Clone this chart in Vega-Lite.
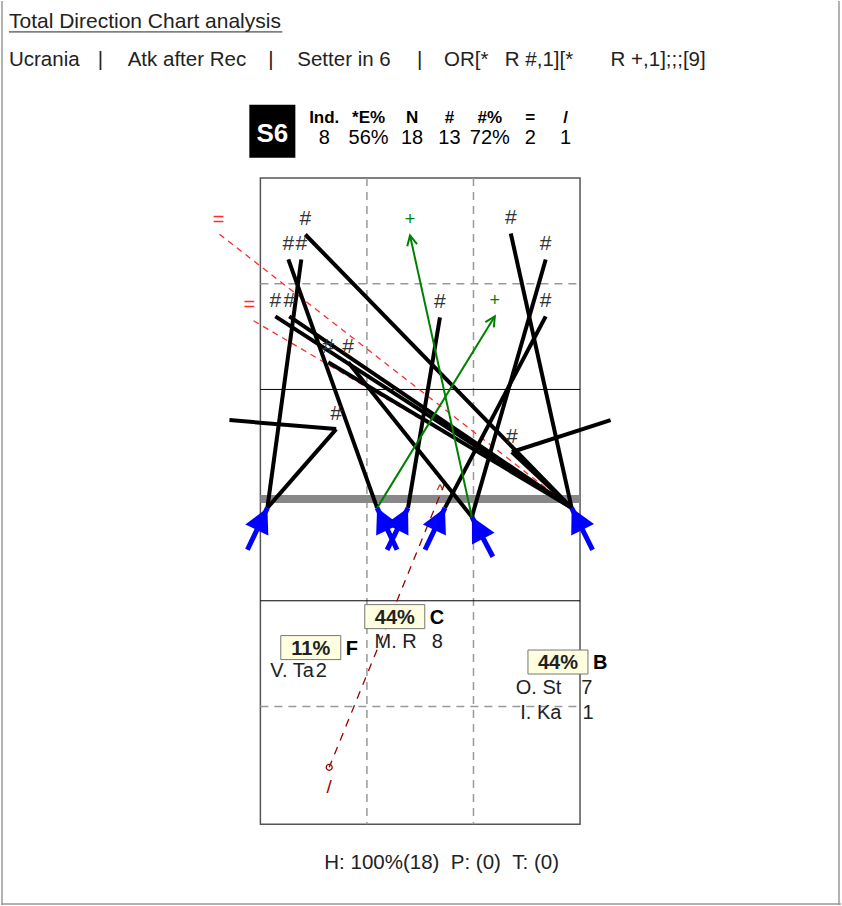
{
"$schema":"https://vega.github.io/schema/vega-lite/v6.json",
"width":842,"height":906,
"autosize":{"type":"fit","contains":"padding"},
"padding":0,
"background":"white",
"config":{"view":{"stroke":null},"text":{"font":"Liberation Sans"}},
"datasets":{
"frame":[{"x":-7.275,"y":-5.03,"x2":-7.275,"y2":20.64},{"x":16.292,"y":-5.03,"x2":16.292,"y2":20.64},{"x":-7.30,"y":20.609,"x2":16.348,"y2":20.609}],
"court":[{"x":0,"x2":9,"y":0,"y2":18.343}],
"dash":[{"x":3,"y":0,"x2":3,"y2":18.343},{"x":6,"y":0,"x2":6,"y2":18.343},{"x":0,"y":3,"x2":9,"y2":3},{"x":0,"y":15,"x2":9,"y2":15}],
"lines3m":[{"x":0,"y":6,"x2":9,"y2":6},{"x":0,"y":12,"x2":9,"y2":12}],
"net":[{"x":0,"y":9.108,"x2":9,"y2":9.108}],
"attacks":[
{"sx":8.764,"sy":9.363,"ex":1.264,"ey":1.601,"code":"#"},
{"sx":3.287,"sy":9.363,"ex":0.787,"ey":2.309,"code":"#"},
{"sx":0.197,"sy":9.363,"ex":1.152,"ey":2.309,"code":"#"},
{"sx":8.764,"sy":9.363,"ex":0.421,"ey":3.924,"code":"#"},
{"sx":8.764,"sy":9.363,"ex":0.815,"ey":3.924,"code":"#"},
{"sx":8.764,"sy":9.363,"ex":1.910,"ey":5.227,"code":"#"},
{"sx":5.955,"sy":9.618,"ex":2.472,"ey":5.227,"code":"#"},
{"sx":4.157,"sy":9.363,"ex":5.056,"ey":3.952,"code":"#"},
{"sx":8.764,"sy":9.363,"ex":7.051,"ey":1.572,"code":"#"},
{"sx":5.955,"sy":9.618,"ex":8.034,"ey":2.309,"code":"#"},
{"sx":5.197,"sy":9.363,"ex":8.034,"ey":3.924,"code":"#"},
{"sx":0.197,"sy":9.363,"ex":2.135,"ey":7.125,"code":"#"},
{"sx":8.764,"sy":9.363,"ex":7.079,"ey":7.776,"code":"#"},
{"sx":5.955,"sy":9.618,"ex":4.213,"ey":1.629,"code":"+"},
{"sx":3.287,"sy":9.363,"ex":6.601,"ey":3.924,"code":"+"},
{"sx":8.764,"sy":9.363,"ex":-1.180,"ey":1.572,"code":"="},
{"sx":8.764,"sy":9.363,"ex":-0.309,"ey":3.980,"code":"="},
{"sx":5.197,"sy":8.654,"ex":1.938,"ey":16.728,"code":"/"}
],
"starts":[
{"tx":-0.365,"ty":10.552,"hx":0.197,"hy":9.363},
{"tx":3.848,"ty":10.552,"hx":3.287,"hy":9.363},
{"tx":3.567,"ty":10.552,"hx":4.157,"hy":9.363},
{"tx":4.635,"ty":10.552,"hx":5.197,"hy":9.363},
{"tx":6.545,"ty":10.751,"hx":5.955,"hy":9.618},
{"tx":9.354,"ty":10.552,"hx":8.764,"hy":9.363}
],
"extra":[{"x":-0.871,"y":6.870,"x2":2.135,"y2":7.125},{"x":9.860,"y":6.870,"x2":7.079,"y2":7.776}],
"setter":[{"x":0.337,"y":-1.331,"label":"S6"}],
"stats":[
{"x":1.798,"hy":-1.572,"vy":-0.977,"head":"Ind.","val":"8"},
{"x":3.048,"hy":-1.572,"vy":-0.977,"head":"*E%","val":"56%"},
{"x":4.270,"hy":-1.572,"vy":-0.977,"head":"N","val":"18"},
{"x":5.323,"hy":-1.572,"vy":-0.977,"head":"#","val":"13"},
{"x":6.461,"hy":-1.572,"vy":-0.977,"head":"#%","val":"72%"},
{"x":7.598,"hy":-1.572,"vy":-0.977,"head":"=","val":"2"},
{"x":8.596,"hy":-1.572,"vy":-0.977,"head":"/","val":"1"}
],
"zones":[
{"x":3.784,"y":12.450,"pct":"44%","zone":"C"},
{"x":1.419,"y":13.329,"pct":"11%","zone":"F"},
{"x":8.379,"y":13.739,"pct":"44%","zone":"B"}
],
"players":[
{"nx":4.402,"cx":4.823,"y":13.329,"name":"M. R","n":"8"},
{"nx":1.503,"cx":1.559,"y":14.178,"name":"V. Ta","n":"2"},
{"nx":8.475,"cx":9.037,"y":14.660,"name":"O. St","n":"7"},
{"nx":8.475,"cx":9.073,"y":15.368,"name":"I. Ka","n":"1"}
],
"title":[{"x":-7.079,"y":-4.263,"t":"Total Direction Chart analysis"}],
"uline":[{"x":-7.079,"x2":0.618,"y":-4.150,"y2":-4.150}],
"subtitle":[
{"x":-7.079,"y":-3.187,"t":"Ucrania"},
{"x":-4.579,"y":-3.187,"t":"|"},
{"x":-3.736,"y":-3.187,"t":"Atk after Rec"},
{"x":0.225,"y":-3.187,"t":"|"},
{"x":1.039,"y":-3.187,"t":"Setter in 6"},
{"x":4.410,"y":-3.187,"t":"|"},
{"x":5.169,"y":-3.187,"t":"OR[*"},
{"x":6.882,"y":-3.187,"t":"R #,1][*"},
{"x":9.860,"y":-3.187,"t":"R +,1];;;[9]"}
],
"footer":[{"x":5.104,"y":19.618,"t":"H: 100%(18)\u00a0\u00a0P: (0)\u00a0\u00a0T: (0)"}]
},
"layer":[
{"data":{"name":"frame"},"mark":{"type":"rule","color":"#999","strokeWidth":1.5},
 "encoding":{"x":{"field":"x","type":"quantitative","scale":{"domain":[-7.3034,16.3483],"nice":false,"zero":false},"axis":null},"y":{"field":"y","type":"quantitative","scale":{"domain":[-5.0283,20.6374],"nice":false,"zero":false,"reverse":true},"axis":null},"x2":{"field":"x2"},"y2":{"field":"y2"}}},
{"data":{"name":"court"},"mark":{"type":"rect","filled":false,"stroke":"#555","strokeWidth":1.5},
 "encoding":{"x":{"field":"x","type":"quantitative","scale":{"domain":[-7.3034,16.3483],"nice":false,"zero":false},"axis":null},"y":{"field":"y","type":"quantitative","scale":{"domain":[-5.0283,20.6374],"nice":false,"zero":false,"reverse":true},"axis":null},"x2":{"field":"x2"},"y2":{"field":"y2"}}},
{"data":{"name":"dash"},"mark":{"type":"rule","color":"#999","strokeWidth":1.5,"strokeDash":[8,6]},
 "encoding":{"x":{"field":"x","type":"quantitative","scale":{"domain":[-7.3034,16.3483],"nice":false,"zero":false},"axis":null},"y":{"field":"y","type":"quantitative","scale":{"domain":[-5.0283,20.6374],"nice":false,"zero":false,"reverse":true},"axis":null},"x2":{"field":"x2"},"y2":{"field":"y2"}}},
{"data":{"name":"lines3m"},"mark":{"type":"rule","color":"#000","strokeWidth":1},
 "encoding":{"x":{"field":"x","type":"quantitative","scale":{"domain":[-7.3034,16.3483],"nice":false,"zero":false},"axis":null},"y":{"field":"y","type":"quantitative","scale":{"domain":[-5.0283,20.6374],"nice":false,"zero":false,"reverse":true},"axis":null},"x2":{"field":"x2"},"y2":{"field":"y2"}}},
{"data":{"name":"net"},"mark":{"type":"rule","color":"#888","strokeWidth":8},
 "encoding":{"x":{"field":"x","type":"quantitative","scale":{"domain":[-7.3034,16.3483],"nice":false,"zero":false},"axis":null},"y":{"field":"y","type":"quantitative","scale":{"domain":[-5.0283,20.6374],"nice":false,"zero":false,"reverse":true},"axis":null},"x2":{"field":"x2"},"y2":{"field":"y2"}}},
{"data":{"name":"attacks"},"transform":[{"filter":"datum.code==='='"}],"mark":{"type":"rule","color":"#ff2a2a","strokeWidth":1.3,"strokeDash":[6,5]},
 "encoding":{"x":{"field":"sx","type":"quantitative","scale":{"domain":[-7.3034,16.3483],"nice":false,"zero":false},"axis":null},"y":{"field":"sy","type":"quantitative","scale":{"domain":[-5.0283,20.6374],"nice":false,"zero":false,"reverse":true},"axis":null},"x2":{"field":"ex"},"y2":{"field":"ey"}}},
{"data":{"name":"attacks"},"transform":[{"filter":"datum.code==='/'"}],"mark":{"type":"rule","color":"#990000","strokeWidth":1.3,"strokeDash":[8,7]},
 "encoding":{"x":{"field":"sx","type":"quantitative","scale":{"domain":[-7.3034,16.3483],"nice":false,"zero":false},"axis":null},"y":{"field":"sy","type":"quantitative","scale":{"domain":[-5.0283,20.6374],"nice":false,"zero":false,"reverse":true},"axis":null},"x2":{"field":"ex"},"y2":{"field":"ey"}}},
{"data":{"name":"attacks"},"transform":[{"filter":"datum.code==='#'"}],"mark":{"type":"rule","color":"#000","strokeWidth":4},
 "encoding":{"x":{"field":"sx","type":"quantitative","scale":{"domain":[-7.3034,16.3483],"nice":false,"zero":false},"axis":null},"y":{"field":"sy","type":"quantitative","scale":{"domain":[-5.0283,20.6374],"nice":false,"zero":false,"reverse":true},"axis":null},"x2":{"field":"ex"},"y2":{"field":"ey"}}},
{"data":{"name":"extra"},"mark":{"type":"rule","color":"#000","strokeWidth":4},
 "encoding":{"x":{"field":"x","type":"quantitative","scale":{"domain":[-7.3034,16.3483],"nice":false,"zero":false},"axis":null},"y":{"field":"y","type":"quantitative","scale":{"domain":[-5.0283,20.6374],"nice":false,"zero":false,"reverse":true},"axis":null},"x2":{"field":"x2"},"y2":{"field":"y2"}}},
{"data":{"name":"attacks"},"transform":[{"filter":"datum.code==='+'"}],"mark":{"type":"rule","color":"#008000","strokeWidth":2},
 "encoding":{"x":{"field":"sx","type":"quantitative","scale":{"domain":[-7.3034,16.3483],"nice":false,"zero":false},"axis":null},"y":{"field":"sy","type":"quantitative","scale":{"domain":[-5.0283,20.6374],"nice":false,"zero":false,"reverse":true},"axis":null},"x2":{"field":"ex"},"y2":{"field":"ey"}}},
{"data":{"name":"attacks"},"transform":[{"filter":"datum.code==='+'"},{"calculate":"atan2((datum.ex-datum.sx)*35.6,(datum.sy-datum.ey)*35.3)*180/PI","as":"ang"}],
 "mark":{"type":"point","shape":"M-0.5,1L0,0L0.5,1","filled":false,"color":"#008000","strokeWidth":2,"size":400,"opacity":1},
 "encoding":{"x":{"field":"ex","type":"quantitative","scale":{"domain":[-7.3034,16.3483],"nice":false,"zero":false},"axis":null},"y":{"field":"ey","type":"quantitative","scale":{"domain":[-5.0283,20.6374],"nice":false,"zero":false,"reverse":true},"axis":null},"angle":{"field":"ang","type":"quantitative","scale":null}}},
{"data":{"name":"starts"},"mark":{"type":"rule","color":"#0000ff","strokeWidth":5},
 "encoding":{"x":{"field":"tx","type":"quantitative","scale":{"domain":[-7.3034,16.3483],"nice":false,"zero":false},"axis":null},"y":{"field":"ty","type":"quantitative","scale":{"domain":[-5.0283,20.6374],"nice":false,"zero":false,"reverse":true},"axis":null},"x2":{"field":"hx"},"y2":{"field":"hy"}}},
{"data":{"name":"starts"},"transform":[{"calculate":"atan2((datum.hx-datum.tx)*35.6,(datum.ty-datum.hy)*35.3)*180/PI","as":"ang"}],
 "mark":{"type":"point","shape":"M0,0L0.52,1L-0.52,1Z","filled":true,"color":"#0000ff","size":2401,"opacity":1,"strokeWidth":0},
 "encoding":{"x":{"field":"hx","type":"quantitative","scale":{"domain":[-7.3034,16.3483],"nice":false,"zero":false},"axis":null},"y":{"field":"hy","type":"quantitative","scale":{"domain":[-5.0283,20.6374],"nice":false,"zero":false,"reverse":true},"axis":null},"angle":{"field":"ang","type":"quantitative","scale":null}}},
{"data":{"name":"attacks"},"transform":[{"filter":"datum.code==='#'"}],"mark":{"type":"text","fontSize":21,"color":"#333","dy":-15,"align":"center","baseline":"middle"},
 "encoding":{"x":{"field":"ex","type":"quantitative","scale":{"domain":[-7.3034,16.3483],"nice":false,"zero":false},"axis":null},"y":{"field":"ey","type":"quantitative","scale":{"domain":[-5.0283,20.6374],"nice":false,"zero":false,"reverse":true},"axis":null},"text":{"field":"code"}}},
{"data":{"name":"attacks"},"transform":[{"filter":"datum.code==='+'"}],"mark":{"type":"text","fontSize":18,"color":"#008000","dy":-15,"align":"center","baseline":"middle"},
 "encoding":{"x":{"field":"ex","type":"quantitative","scale":{"domain":[-7.3034,16.3483],"nice":false,"zero":false},"axis":null},"y":{"field":"ey","type":"quantitative","scale":{"domain":[-5.0283,20.6374],"nice":false,"zero":false,"reverse":true},"axis":null},"text":{"field":"code"}}},
{"data":{"name":"attacks"},"transform":[{"filter":"datum.code==='='"}],"mark":{"type":"text","fontSize":20,"color":"#ff2a2a","dy":-13,"align":"center","baseline":"middle"},
 "encoding":{"x":{"field":"ex","type":"quantitative","scale":{"domain":[-7.3034,16.3483],"nice":false,"zero":false},"axis":null},"y":{"field":"ey","type":"quantitative","scale":{"domain":[-5.0283,20.6374],"nice":false,"zero":false,"reverse":true},"axis":null},"text":{"field":"code"}}},
{"data":{"name":"attacks"},"transform":[{"filter":"datum.code==='/'"}],"mark":{"type":"text","fontSize":19,"color":"#990000","dy":20,"align":"center","baseline":"middle"},
 "encoding":{"x":{"field":"ex","type":"quantitative","scale":{"domain":[-7.3034,16.3483],"nice":false,"zero":false},"axis":null},"y":{"field":"ey","type":"quantitative","scale":{"domain":[-5.0283,20.6374],"nice":false,"zero":false,"reverse":true},"axis":null},"text":{"field":"code"}}},
{"data":{"name":"attacks"},"transform":[{"filter":"datum.code==='/'"}],"mark":{"type":"text","fontSize":14,"color":"#990000","dx":-5,"dy":8,"align":"center","baseline":"middle"},
 "encoding":{"x":{"field":"sx","type":"quantitative","scale":{"domain":[-7.3034,16.3483],"nice":false,"zero":false},"axis":null},"y":{"field":"sy","type":"quantitative","scale":{"domain":[-5.0283,20.6374],"nice":false,"zero":false,"reverse":true},"axis":null},"text":{"value":"^"}}},
{"data":{"name":"attacks"},"transform":[{"filter":"datum.code==='/'"}],"mark":{"type":"point","shape":"circle","filled":false,"color":"#990000","size":36,"strokeWidth":1.2,"opacity":1},
 "encoding":{"x":{"field":"ex","type":"quantitative","scale":{"domain":[-7.3034,16.3483],"nice":false,"zero":false},"axis":null},"y":{"field":"ey","type":"quantitative","scale":{"domain":[-5.0283,20.6374],"nice":false,"zero":false,"reverse":true},"axis":null}}},
{"data":{"name":"setter"},"mark":{"type":"point","shape":"M-0.868,-1L0.868,-1L0.868,1L-0.868,1Z","filled":true,"color":"#000","size":2809,"opacity":1,"strokeWidth":0},
 "encoding":{"x":{"field":"x","type":"quantitative","scale":{"domain":[-7.3034,16.3483],"nice":false,"zero":false},"axis":null},"y":{"field":"y","type":"quantitative","scale":{"domain":[-5.0283,20.6374],"nice":false,"zero":false,"reverse":true},"axis":null}}},
{"data":{"name":"setter"},"mark":{"type":"text","fontSize":26,"fontWeight":"bold","color":"#fff","dy":3,"align":"center","baseline":"middle"},
 "encoding":{"x":{"field":"x","type":"quantitative","scale":{"domain":[-7.3034,16.3483],"nice":false,"zero":false},"axis":null},"y":{"field":"y","type":"quantitative","scale":{"domain":[-5.0283,20.6374],"nice":false,"zero":false,"reverse":true},"axis":null},"text":{"field":"label"}}},
{"data":{"name":"stats"},"mark":{"type":"text","fontSize":17,"fontWeight":"bold","color":"#000","align":"center","baseline":"alphabetic"},
 "encoding":{"x":{"field":"x","type":"quantitative","scale":{"domain":[-7.3034,16.3483],"nice":false,"zero":false},"axis":null},"y":{"field":"hy","type":"quantitative","scale":{"domain":[-5.0283,20.6374],"nice":false,"zero":false,"reverse":true},"axis":null},"text":{"field":"head"}}},
{"data":{"name":"stats"},"mark":{"type":"text","fontSize":20,"color":"#000","align":"center","baseline":"alphabetic"},
 "encoding":{"x":{"field":"x","type":"quantitative","scale":{"domain":[-7.3034,16.3483],"nice":false,"zero":false},"axis":null},"y":{"field":"vy","type":"quantitative","scale":{"domain":[-5.0283,20.6374],"nice":false,"zero":false,"reverse":true},"axis":null},"text":{"field":"val"}}},
{"data":{"name":"zones"},"mark":{"type":"point","shape":"M-1,-0.4L1,-0.4L1,0.4L-1,0.4Z","filled":true,"fill":"#ffffe0","stroke":"#777","strokeWidth":1,"size":3600,"opacity":1},
 "encoding":{"x":{"field":"x","type":"quantitative","scale":{"domain":[-7.3034,16.3483],"nice":false,"zero":false},"axis":null},"y":{"field":"y","type":"quantitative","scale":{"domain":[-5.0283,20.6374],"nice":false,"zero":false,"reverse":true},"axis":null}}},
{"data":{"name":"zones"},"mark":{"type":"text","fontSize":20,"fontWeight":"bold","color":"#222","align":"center","baseline":"middle","dy":1},
 "encoding":{"x":{"field":"x","type":"quantitative","scale":{"domain":[-7.3034,16.3483],"nice":false,"zero":false},"axis":null},"y":{"field":"y","type":"quantitative","scale":{"domain":[-5.0283,20.6374],"nice":false,"zero":false,"reverse":true},"axis":null},"text":{"field":"pct"}}},
{"data":{"name":"zones"},"mark":{"type":"text","fontSize":20,"fontWeight":"bold","color":"#000","align":"left","baseline":"middle","dx":35,"dy":1},
 "encoding":{"x":{"field":"x","type":"quantitative","scale":{"domain":[-7.3034,16.3483],"nice":false,"zero":false},"axis":null},"y":{"field":"y","type":"quantitative","scale":{"domain":[-5.0283,20.6374],"nice":false,"zero":false,"reverse":true},"axis":null},"text":{"field":"zone"}}},
{"data":{"name":"players"},"mark":{"type":"text","fontSize":20,"color":"#222","align":"right","baseline":"alphabetic"},
 "encoding":{"x":{"field":"nx","type":"quantitative","scale":{"domain":[-7.3034,16.3483],"nice":false,"zero":false},"axis":null},"y":{"field":"y","type":"quantitative","scale":{"domain":[-5.0283,20.6374],"nice":false,"zero":false,"reverse":true},"axis":null},"text":{"field":"name"}}},
{"data":{"name":"players"},"mark":{"type":"text","fontSize":20,"color":"#222","align":"left","baseline":"alphabetic"},
 "encoding":{"x":{"field":"cx","type":"quantitative","scale":{"domain":[-7.3034,16.3483],"nice":false,"zero":false},"axis":null},"y":{"field":"y","type":"quantitative","scale":{"domain":[-5.0283,20.6374],"nice":false,"zero":false,"reverse":true},"axis":null},"text":{"field":"n"}}},
{"data":{"name":"title"},"mark":{"type":"text","fontSize":21,"color":"#222","align":"left","baseline":"alphabetic"},
 "encoding":{"x":{"field":"x","type":"quantitative","scale":{"domain":[-7.3034,16.3483],"nice":false,"zero":false},"axis":null},"y":{"field":"y","type":"quantitative","scale":{"domain":[-5.0283,20.6374],"nice":false,"zero":false,"reverse":true},"axis":null},"text":{"field":"t"}}},
{"data":{"name":"uline"},"mark":{"type":"rule","color":"#222","strokeWidth":1},
 "encoding":{"x":{"field":"x","type":"quantitative","scale":{"domain":[-7.3034,16.3483],"nice":false,"zero":false},"axis":null},"y":{"field":"y","type":"quantitative","scale":{"domain":[-5.0283,20.6374],"nice":false,"zero":false,"reverse":true},"axis":null},"x2":{"field":"x2"},"y2":{"field":"y2"}}},
{"data":{"name":"subtitle"},"mark":{"type":"text","fontSize":20.5,"color":"#222","align":"left","baseline":"alphabetic"},
 "encoding":{"x":{"field":"x","type":"quantitative","scale":{"domain":[-7.3034,16.3483],"nice":false,"zero":false},"axis":null},"y":{"field":"y","type":"quantitative","scale":{"domain":[-5.0283,20.6374],"nice":false,"zero":false,"reverse":true},"axis":null},"text":{"field":"t"}}},
{"data":{"name":"footer"},"mark":{"type":"text","fontSize":20.5,"color":"#222","align":"center","baseline":"alphabetic"},
 "encoding":{"x":{"field":"x","type":"quantitative","scale":{"domain":[-7.3034,16.3483],"nice":false,"zero":false},"axis":null},"y":{"field":"y","type":"quantitative","scale":{"domain":[-5.0283,20.6374],"nice":false,"zero":false,"reverse":true},"axis":null},"text":{"field":"t"}}}
]
}
